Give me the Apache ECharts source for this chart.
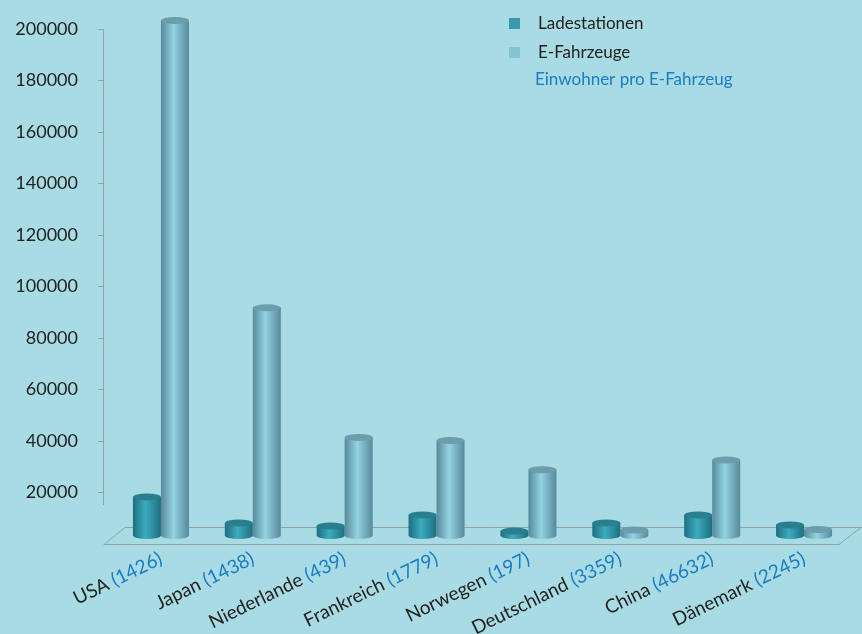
<!DOCTYPE html>
<html>
<head>
<meta charset="utf-8">
<script src="https://cdn.jsdelivr.net/npm/echarts@6/dist/echarts.min.js"></script>
<style>
html,body{margin:0;padding:0;background:#a9dbe4;}
#main{width:862px;height:634px;}
</style>
</head>
<body>
<div id="main"></div>
<script>
// Werte
var laender = ['USA', 'Japan', 'Niederlande', 'Frankreich', 'Norwegen', 'Deutschland', 'China', 'Dänemark'];
var einwohner = [1426, 1438, 439, 1779, 197, 3359, 46632, 2245];
var ladestationen = [15000, 4900, 3700, 8000, 1700, 4900, 8000, 4100];
var fahrzeuge = [200000, 88400, 38100, 36900, 25500, 2100, 29300, 2300];
var yTicks = [20000, 40000, 60000, 80000, 100000, 120000, 140000, 160000, 180000, 200000];

var schrift = 'Lato';

// Zylinder: Boden, Mantel, Deckel
function zylinder(dx, rand, mitte, deckel) {
    return function(params, api) {
        var p = api.coord([api.value(0), api.value(1)]);
        var b = api.coord([api.value(0), 0]);
        var w = 28;
        var cx = p[0] + dx;
        var mantel = new echarts.graphic.LinearGradient(0, 0, 1, 0, [
            {offset: 0, color: rand},
            {offset: 0.45, color: mitte},
            {offset: 1, color: rand}
        ]);
        return {
            type: 'group',
            children: [
                {type: 'circle', x: cx, y: b[1], scaleY: 0.25, shape: {cx: 0, cy: 0, r: w / 2}, style: {fill: mantel}},
                {type: 'rect', shape: {x: cx - w / 2, y: p[1], width: w, height: b[1] - p[1]}, style: {fill: mantel}},
                {type: 'circle', x: cx, y: p[1], scaleY: 0.25, shape: {cx: 0, cy: 0, r: w / 2}, style: {fill: deckel}}
            ]
        };
    };
}

var myChart = echarts.init(document.getElementById('main'));

var option = {
    backgroundColor: '#a9dbe4',
    animation: false,
    textStyle: {fontFamily: schrift},
    legend: {
        orient: 'vertical',
        left: 504,
        top: 10,
        itemWidth: 11,
        itemHeight: 11,
        itemGap: 12,
        icon: 'rect',
        textStyle: {fontFamily: schrift, fontSize: 17, color: '#222', lineHeight: 17, padding: [0, 0, 0, 13]},
        data: [
            {name: 'Ladestationen', itemStyle: {color: '#3a98aa'}},
            {name: 'E-Fahrzeuge', itemStyle: {color: '#86c3d3'}}
        ]
    },
    graphic: [
        {type: 'text', left: 535, top: 71, style: {text: 'Einwohner pro E-Fahrzeug', fill: '#1a7cc4', font: '17px Lato'}},
        {type: 'line', shape: {x1: 103.5, y1: 29, x2: 103.5, y2: 505}, style: {stroke: '#8fa3a9', lineWidth: 1}},
        {type: 'polyline', shape: {points: [[104, 544.5], [125, 527.5], [862, 527.5]]}, style: {stroke: '#8fa3a9', lineWidth: 1, fill: null}},
        {type: 'line', shape: {x1: 839, y1: 544.5, x2: 861, y2: 527.5}, style: {stroke: '#8fa3a9', lineWidth: 1}}
    ],
    grid: [
        {left: 104, right: 23, top: 29, bottom: 90, outerBoundsMode: 'none'},
        {left: 115, right: 12, top: 20.5, bottom: 98.5, outerBoundsMode: 'none'}
    ],
    xAxis: [{
        type: 'category',
        gridIndex: 0,
        data: laender,
        axisLine: {lineStyle: {color: '#8fa3a9'}},
        axisTick: {length: 7, lineStyle: {color: '#8fa3a9'}},
        axisLabel: {show: false},
        splitLine: {show: false}
    }, {
        type: 'category',
        gridIndex: 1,
        data: laender,
        axisLine: {show: false},
        axisTick: {show: false},
        axisLabel: {
            interval: 0,
            rotate: 26,
            margin: 22,
            formatter: function(v, i) {
                return '{a|' + v + ' }{b|(' + einwohner[i] + ')}';
            },
            rich: {
                a: {fontFamily: schrift, fontSize: 19, color: '#222'},
                b: {fontFamily: schrift, fontSize: 19, color: '#1a7cc4'}
            }
        }
    }],
    yAxis: [{
        type: 'value',
        gridIndex: 0,
        min: 0,
        max: 200000,
        interval: 20000,
        axisLine: {show: false},
        axisTick: {show: true, length: 6, customValues: yTicks, lineStyle: {color: '#8fa3a9'}},
        axisLabel: {
            margin: 26,
            fontFamily: schrift,
            fontSize: 18,
            color: '#222',
            customValues: yTicks,
            formatter: function(v) { return String(v); }
        },
        splitLine: {show: false}
    }, {
        type: 'value',
        gridIndex: 1,
        min: 0,
        max: 200000,
        show: false,
        splitLine: {show: false}
    }],
    series: [{
        name: 'Ladestationen',
        type: 'custom',
        xAxisIndex: 1,
        yAxisIndex: 1,
        clip: false,
        renderItem: zylinder(-14, '#1d6f80', '#3cabbe', '#2a7f8e'),
        encode: {x: 0, y: 1},
        data: ladestationen.map(function(v, i) { return [i, v]; })
    }, {
        name: 'E-Fahrzeuge',
        type: 'custom',
        xAxisIndex: 1,
        yAxisIndex: 1,
        clip: false,
        renderItem: zylinder(14, '#57899a', '#93d3e3', '#6b9dac'),
        encode: {x: 0, y: 1},
        data: fahrzeuge.map(function(v, i) { return [i, v]; })
    }]
};

myChart.setOption(option);
</script>
</body>
</html>
